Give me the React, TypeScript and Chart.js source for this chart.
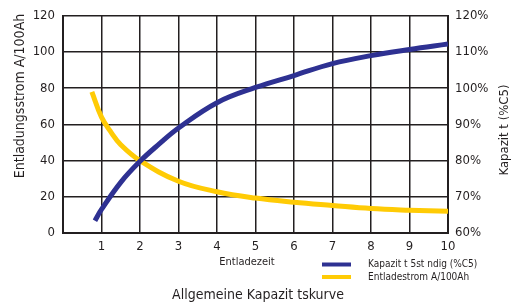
import React, { useEffect, useRef } from "react";
import { Chart, registerables } from "chart.js";

Chart.register(...registerables);

// ---- data ----
const capX = [0.83, 1, 1.5, 2, 2.5, 3, 4, 5, 6, 7, 8, 9, 10];
const capY = [63.4, 66.5, 74.0, 79.8, 84.6, 89.0, 96.0, 100.2, 103.5, 106.8, 109.0, 110.7, 112.2];
const curX = [0.75, 1, 1.25, 1.5, 2, 3, 4, 5, 6, 7, 8, 9, 10];
const curY = [78.0, 64.0, 55.6, 48.8, 40.0, 28.6, 22.8, 19.3, 17.0, 15.2, 13.5, 12.6, 12.0];

const capLabel = "Kapazit t 5st ndig (%C5)";
const curLabel = "Entladestrom A/100Ah";
const xTitle = "Entladezeit";
const yLeftTitle = "Entladungsstrom A/100Ah";
const yRightTitle = "Kapazit t (%C5)";
const mainTitle = "Allgemeine Kapazit tskurve";

const BLUE = "#2e3192";
const YELLOW = "#ffcb05";
const INK = "#231f20";
const FONT = "'Liberation Sans Narrow', 'DejaVu Sans Condensed', 'Arial Narrow', sans-serif";

const decorPlugin = {
  id: "decor",
  afterDraw(chart: any) {
    const ctx = chart.ctx as CanvasRenderingContext2D;
    ctx.save();
    ctx.fillStyle = INK;
    ctx.textAlign = "center";
    ctx.textBaseline = "middle";
    // left title
    ctx.save();
    ctx.font = `14px ${FONT}`;
    ctx.translate(20, 96);
    ctx.rotate(-Math.PI / 2);
    ctx.fillText(yLeftTitle, 0, 0);
    ctx.restore();
    // right title
    ctx.save();
    ctx.font = `13px ${FONT}`;
    ctx.translate(505, 130);
    ctx.rotate(-Math.PI / 2);
    ctx.fillText(yRightTitle, 0, 0);
    ctx.restore();
    // x title
    ctx.font = `11px ${FONT}`;
    ctx.fillText(xTitle, 247, 262);
    // main title
    ctx.font = `14px ${FONT}`;
    ctx.fillText(mainTitle, 258, 295);
    // legend
    const items = [
      { label: capLabel, color: BLUE, y: 264.5 },
      { label: curLabel, color: YELLOW, y: 277 },
    ];
    ctx.font = `10px ${FONT}`;
    ctx.textAlign = "left";
    for (const it of items) {
      ctx.strokeStyle = it.color;
      ctx.lineWidth = 4;
      ctx.beginPath();
      ctx.moveTo(322, it.y);
      ctx.lineTo(351, it.y);
      ctx.stroke();
      ctx.fillStyle = INK;
      ctx.fillText(it.label, 368, it.y);
    }
    ctx.restore();
  },
};

export default function App() {
  const ref = useRef<HTMLCanvasElement>(null);
  useEffect(() => {
    if (!ref.current) return;
    const tickFont = { family: FONT, size: 13 };
    const chart = new Chart(ref.current, {
      type: "line",
      data: {
        datasets: [
          {
            label: capLabel,
            data: capX.map((x, i) => ({ x, y: capY[i] })),
            borderColor: BLUE,
            borderWidth: 5,
            pointRadius: 0,
            tension: 0.4,
            yAxisID: "y1",
            borderCapStyle: "butt",
          },
          {
            label: curLabel,
            data: curX.map((x, i) => ({ x, y: curY[i] })),
            borderColor: YELLOW,
            borderWidth: 5,
            pointRadius: 0,
            tension: 0.4,
            yAxisID: "y",
            borderCapStyle: "butt",
          },
        ],
      },
      options: {
        animation: false,
        responsive: false,
        layout: { padding: { top: 13, left: 0, right: 0, bottom: 0 } },
        plugins: {
          legend: { display: false },
          tooltip: { enabled: false },
          title: { display: false },
        },
        scales: {
          x: {
            type: "linear",
            position: "bottom",
            min: 0,
            max: 10,
            afterFit: (s: any) => {
              s.height = 71;
            },
            ticks: {
              stepSize: 1,
              font: tickFont,
              color: INK,
              padding: 6,
              callback: (v: any) => (v === 0 ? "" : String(v)),
            },
            grid: { color: INK, lineWidth: 1.5, drawTicks: false },
            border: { display: true, color: INK, width: 2 },
          },
          y: {
            type: "linear",
            position: "left",
            min: 0,
            max: 120,
            afterFit: (s: any) => {
              s.width = 63;
            },
            ticks: { stepSize: 20, font: tickFont, color: INK, padding: 8 },
            grid: { color: INK, lineWidth: 1.5, drawTicks: false },
            border: { display: true, color: INK, width: 2 },
          },
          y1: {
            type: "linear",
            position: "right",
            min: 60,
            max: 120,
            afterFit: (s: any) => {
              s.width = 66;
            },
            ticks: {
              stepSize: 10,
              font: tickFont,
              color: INK,
              padding: 7,
              callback: (v: any) => `${v}%`,
            },
            grid: { display: false, drawTicks: false },
            border: { display: true, color: INK, width: 2 },
          },
        },
      },
      plugins: [decorPlugin],
    } as any);
    return () => chart.destroy();
  }, []);
  return (
    <div style={{ position: "fixed", left: 0, top: 0, width: 514, height: 304, background: "#fff" }}>
      <canvas ref={ref} width={514} height={304} style={{ width: 514, height: 304, display: "block" }} />
    </div>
  );
}
